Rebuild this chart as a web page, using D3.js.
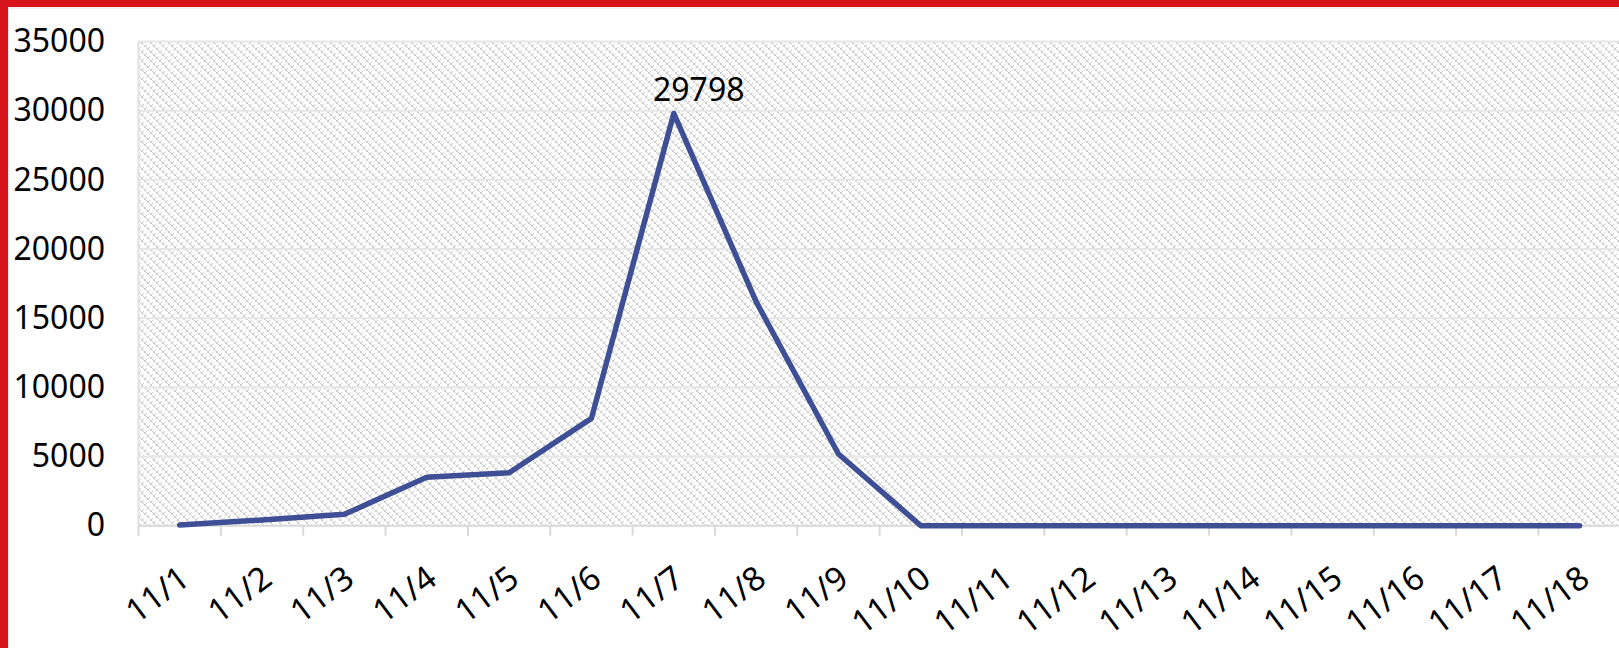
<!DOCTYPE html>
<html>
<head>
<meta charset="utf-8">
<script src="https://cdn.jsdelivr.net/npm/d3@7"></script>
<style>
  html, body { margin: 0; padding: 0; background: #fff; }
  svg { display: block; font-family: "Noto Sans", "Open Sans", sans-serif; }
</style>
</head>
<body>
<div id="chart"></div>
<script>
let categories = ["11/1", "11/2", "11/3", "11/4", "11/5", "11/6", "11/7", "11/8", "11/9",
    "11/10", "11/11", "11/12", "11/13", "11/14", "11/15", "11/16", "11/17", "11/18"];
let values = [50, 420, 820, 3500, 3830, 7760, 29798, 16200, 5180,
    0, 0, 0, 0, 0, 0, 0, 0, 0];
let yTicks = [0, 5000, 10000, 15000, 20000, 25000, 30000, 35000];
let labelled = ["11/7"];

let width = 1619,
    height = 648;

let plotLeft = 138.5, plotRight = 1620.8, plotTop = 41.5, plotBottom = 525.7;

let svg = d3.select("#chart")
    .append("svg")
    .attr("width", width)
    .attr("height", height);

// hatched plot fill
let defs = svg.append("defs");
let pat = defs.append("pattern")
    .attr("id", "hatch")
    .attr("patternUnits", "userSpaceOnUse")
    .attr("width", 9)
    .attr("height", 9);
pat.append("rect").attr("width", 9).attr("height", 9).attr("fill", "#fff");
[[0, 0], [3, 3], [6, 6], [3, 0], [6, 3], [0, 6]].forEach((p, i) => {
    pat.append("rect")
        .attr("x", p[0] + (i > 2 ? 1.5 : 0)).attr("y", p[1] + (i > 2 ? 1.5 : 0))
        .attr("width", 1.5).attr("height", 1.5)
        .attr("fill", "#cfcfcf")
        .attr("shape-rendering", "crispEdges");
    pat.append("rect")
        .attr("x", p[0] + (i > 2 ? 0 : 1.5)).attr("y", p[1] + (i > 2 ? 0 : 1.5))
        .attr("width", 1.5).attr("height", 1.5)
        .attr("fill", i > 2 ? "#fff" : "#cfcfcf")
        .attr("shape-rendering", "crispEdges");
});

// red frame (top and left)
svg.append("rect").attr("x", 0).attr("y", 0).attr("width", width).attr("height", 7).attr("fill", "#d7141c");
svg.append("rect").attr("x", 0).attr("y", 0).attr("width", 8).attr("height", height).attr("fill", "#d7141c");
svg.append("line").attr("x1", 8).attr("x2", width).attr("y1", 8).attr("y2", 8).attr("stroke", "#e2e2e2");
svg.append("line").attr("x1", 8.5).attr("x2", 8.5).attr("y1", 8).attr("y2", height).attr("stroke", "#e2e2e2");

let x = d3.scaleBand()
    .domain(categories)
    .range([plotLeft, plotRight]);

let y = d3.scaleLinear()
    .domain([0, 35000])
    .range([plotBottom, plotTop]);

svg.append("rect")
    .attr("x", plotLeft)
    .attr("y", plotTop)
    .attr("width", plotRight - plotLeft)
    .attr("height", plotBottom - plotTop)
    .attr("fill", "url(#hatch)");

// gridlines
svg.append("g")
    .selectAll("line")
    .data(yTicks.slice(1))
    .enter().append("line")
    .attr("x1", plotLeft)
    .attr("x2", plotRight)
    .attr("y1", d => y(d))
    .attr("y2", d => y(d))
    .attr("stroke", "#e6e6e6")
    .attr("stroke-width", 2);

svg.append("line")
    .attr("x1", plotLeft).attr("x2", plotLeft)
    .attr("y1", plotTop).attr("y2", plotBottom)
    .attr("stroke", "#e0e0e0")
    .attr("stroke-width", 2);

// y axis labels
let yAxis = svg.append("g")
    .attr("transform", "translate(105,0)")
    .call(d3.axisLeft(y).tickValues(yTicks).tickSize(0).tickPadding(0).tickFormat(d3.format("d")));
yAxis.select(".domain").remove();
yAxis.selectAll("text")
    .style("font-size", "32px")
    .style("font-family", "'Noto Sans', sans-serif")
    .attr("fill", "#000");

// x axis line and ticks at category boundaries
svg.append("line")
    .attr("x1", plotLeft).attr("x2", plotRight)
    .attr("y1", plotBottom).attr("y2", plotBottom)
    .attr("stroke", "#d9d9d9")
    .attr("stroke-width", 2);

svg.append("g")
    .selectAll("line")
    .data(categories)
    .enter().append("line")
    .attr("x1", d => x(d))
    .attr("x2", d => x(d))
    .attr("y1", plotBottom)
    .attr("y2", plotBottom + 10)
    .attr("stroke", "#d9d9d9")
    .attr("stroke-width", 2);

let xAxis = svg.append("g")
    .attr("transform", "translate(0," + plotBottom + ")")
    .call(d3.axisBottom(x).tickSize(0).tickPadding(0));
xAxis.select(".domain").remove();
xAxis.selectAll("text")
    .attr("y", 0)
    .attr("dy", 0)
    .attr("text-anchor", "end")
    .attr("transform", "translate(12,57) rotate(-37)")
    .style("font-size", "33px")
    .style("font-family", "'Noto Sans', sans-serif")
    .attr("fill", "#000");

// series line
let line = d3.line()
    .x((d, i) => x(categories[i]) + x.bandwidth() / 2)
    .y(d => y(d));

svg.append("path")
    .datum(values)
    .attr("d", line)
    .attr("fill", "none")
    .attr("stroke", "#3f4f95")
    .attr("stroke-width", 5.5)
    .attr("stroke-linejoin", "round")
    .attr("stroke-linecap", "round");

// data label
svg.append("g")
    .selectAll("text")
    .data(categories.map((c, i) => ({c: c, v: values[i]})).filter(d => labelled.includes(d.c)))
    .enter().append("text")
    .attr("x", d => x(d.c) + x.bandwidth() / 2 + 25)
    .attr("y", d => y(d.v) - 12)
    .attr("text-anchor", "middle")
    .style("font-size", "32px")
    .text(d => d.v);
</script>
</body>
</html>
